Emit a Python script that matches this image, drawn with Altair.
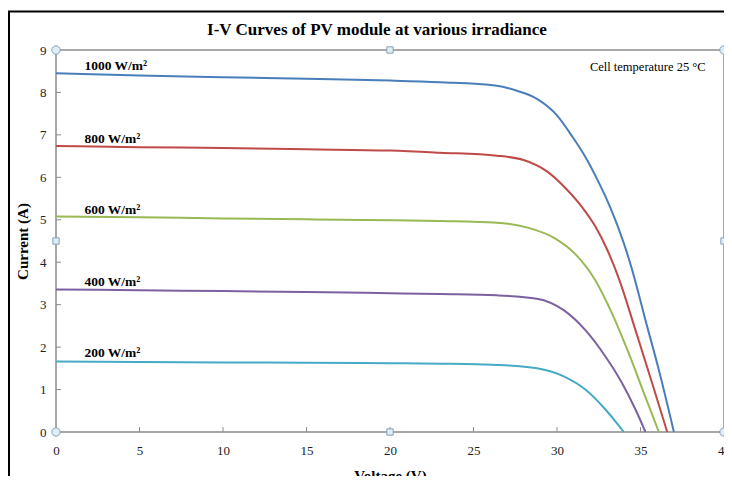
import altair as alt
import pandas as pd

# ---- data ----
series_names = ["1000 W/m²", "800 W/m²", "600 W/m²", "400 W/m²", "200 W/m²"]
series_colors = ["#4a7ebb", "#be4b48", "#98b954", "#7d60a0", "#46aac5"]

v_1000 = [0, 5, 10, 15, 20, 23, 26.4, 27.6, 28.8, 30.0, 30.9, 31.7, 32.5, 33.2, 34.0, 34.5, 35.3, 36.1, 37.0]
i_1000 = [8.45, 8.40, 8.36, 8.32, 8.28, 8.24, 8.16, 8.04, 7.85, 7.46, 6.97, 6.48, 5.88, 5.28, 4.45, 3.82, 2.63, 1.46, 0]

v_800 = [0, 5, 10, 15, 20, 23, 26.4, 28.0, 29.4, 30.5, 31.5, 32.3, 33.0, 33.7, 34.7, 35.7, 36.6]
i_800 = [6.74, 6.71, 6.69, 6.66, 6.63, 6.58, 6.51, 6.41, 6.14, 5.75, 5.30, 4.84, 4.30, 3.62, 2.40, 1.15, 0]

v_600 = [0, 5, 10, 15, 20, 23, 26.4, 28.3, 29.8, 31.1, 32.3, 33.3, 34.3, 35.2, 36.1]
i_600 = [5.08, 5.06, 5.03, 5.01, 4.99, 4.97, 4.93, 4.81, 4.58, 4.19, 3.57, 2.79, 1.85, 0.92, 0]

v_400 = [0, 5, 10, 15, 20, 23, 26.4, 28.8, 30.4, 31.7, 32.9, 33.9, 34.7, 35.3]
i_400 = [3.36, 3.34, 3.32, 3.30, 3.27, 3.25, 3.22, 3.14, 2.87, 2.40, 1.78, 1.15, 0.53, 0]

v_200 = [0, 5, 10, 15, 20, 23, 26.4, 28.8, 30.4, 31.7, 32.9, 34.0]
i_200 = [1.66, 1.65, 1.64, 1.63, 1.62, 1.61, 1.58, 1.50, 1.31, 1.00, 0.53, 0]

label_v = [1.7, 1.7, 1.7, 1.7, 1.7]
label_i = [8.62, 6.90, 5.24, 3.54, 1.86]

x_ticks = [0, 5, 10, 15, 20, 25, 30, 35, 40]
y_ticks = [0, 1, 2, 3, 4, 5, 6, 7, 8, 9]

title_text = "I-V Curves of PV module at various irradiance"
note_text = "Cell temperature 25 °C"

# ---- build tables ----
rows = []
for name, vs, cs in zip(series_names,
                        [v_1000, v_800, v_600, v_400, v_200],
                        [i_1000, i_800, i_600, i_400, i_200]):
    for v, c in zip(vs, cs):
        rows.append({"series": name, "V": v, "I": c})
df = pd.DataFrame(rows)
labels = pd.DataFrame({"series": series_names, "V": label_v, "I": label_i})
xt = pd.DataFrame({"V": x_ticks[1:-1]})
yt = pd.DataFrame({"I": y_ticks[1:-1]})
corners = pd.DataFrame({"V": [0, 0, 40, 40], "I": [0, 9, 0, 9]})
mids = pd.DataFrame({"V": [20, 20, 0, 40], "I": [0, 9, 4.5, 4.5]})
one = pd.DataFrame({"k": [0]})

W, H = 668, 382
SERIF = "Liberation Serif"
GRAY = "#8c8c8c"
xs = alt.Scale(domain=[0, 40], nice=False, zero=False)
ys = alt.Scale(domain=[0, 9], nice=False, zero=False)

x_axis = alt.Axis(
    title="Voltage (V)", values=x_ticks, tickSize=0, domain=False, grid=False,
    labelPadding=12, labelFont=SERIF, labelFontSize=13, labelColor="#222222",
    labelFlush=False, titleFont=SERIF, titleFontSize=15, titleFontWeight="bold",
    titleColor="black", titleY=43, titleBaseline="middle")
y_axis = alt.Axis(
    title="Current (A)", values=y_ticks, tickSize=0, domain=False, grid=False,
    labelPadding=10, labelFont=SERIF, labelFontSize=13, labelColor="#222222",
    labelFlush=False, titleFont=SERIF, titleFontSize=15, titleFontWeight="bold",
    titleColor="black", titleX=-34, titleY=H / 2, titleBaseline="middle",
    titleAlign="center", titleAngle=270)

lines = alt.Chart(df).mark_line(strokeWidth=2, interpolate="monotone").encode(
    x=alt.X("V:Q", scale=xs, axis=x_axis),
    y=alt.Y("I:Q", scale=ys, axis=y_axis),
    color=alt.Color("series:N", scale=alt.Scale(domain=series_names, range=series_colors),
                    legend=None),
    order=alt.Order("V:Q"),
)

texts = alt.Chart(labels).mark_text(
    align="left", baseline="middle", font=SERIF, fontSize=13.5, fontWeight="bold",
    color="black").encode(
    x=alt.X("V:Q", scale=xs), y=alt.Y("I:Q", scale=ys), text="series:N")

note = alt.Chart(one).mark_text(
    align="right", baseline="middle", font=SERIF, fontSize=12.5, color="black").encode(
    x=alt.datum(38.9), y=alt.datum(8.6), text=alt.value(note_text))

title = alt.Chart(one).mark_text(
    align="center", baseline="middle", font=SERIF, fontSize=17, fontWeight="bold",
    color="black").encode(x=alt.value(321), y=alt.value(-20), text=alt.value(title_text))

ytick_marks = alt.Chart(yt).mark_rule(color=GRAY, strokeWidth=1).encode(
    y=alt.Y("I:Q", scale=ys), x=alt.value(0), x2=alt.value(5))
xtick_marks = alt.Chart(xt).mark_rule(color=GRAY, strokeWidth=1).encode(
    x=alt.X("V:Q", scale=xs), y=alt.value(H), y2=alt.value(H - 5))

corner_pts = alt.Chart(corners).mark_point(
    shape="circle", filled=True, fill="#dfeef6", stroke="#8aa1b8", strokeWidth=1,
    size=70, opacity=1).encode(x=alt.X("V:Q", scale=xs), y=alt.Y("I:Q", scale=ys))
mid_pts = alt.Chart(mids).mark_point(
    shape="square", filled=True, fill="#dfeef6", stroke="#8aa1b8", strokeWidth=1,
    size=40, opacity=1).encode(x=alt.X("V:Q", scale=xs), y=alt.Y("I:Q", scale=ys))

frame_left = alt.Chart(one).mark_rule(color="black", strokeWidth=2).encode(
    x=alt.value(-47), y=alt.value(-39), y2=alt.value(H + 60))
frame_top = alt.Chart(one).mark_rule(color="black", strokeWidth=2).encode(
    x=alt.value(-48), x2=alt.value(W + 10), y=alt.value(-38.5))

chart = alt.layer(
    lines, texts, note, title, ytick_marks, xtick_marks, corner_pts, mid_pts,
    frame_left, frame_top
).properties(
    width=W, height=H,
    autosize=alt.AutoSizeParams(type="none"),
    padding={"left": 48, "top": 42, "right": 0, "bottom": 44},
).configure_view(stroke=GRAY, strokeWidth=1.5)

chart.save("out.html", embed_options={"renderer": "svg", "actions": False})
